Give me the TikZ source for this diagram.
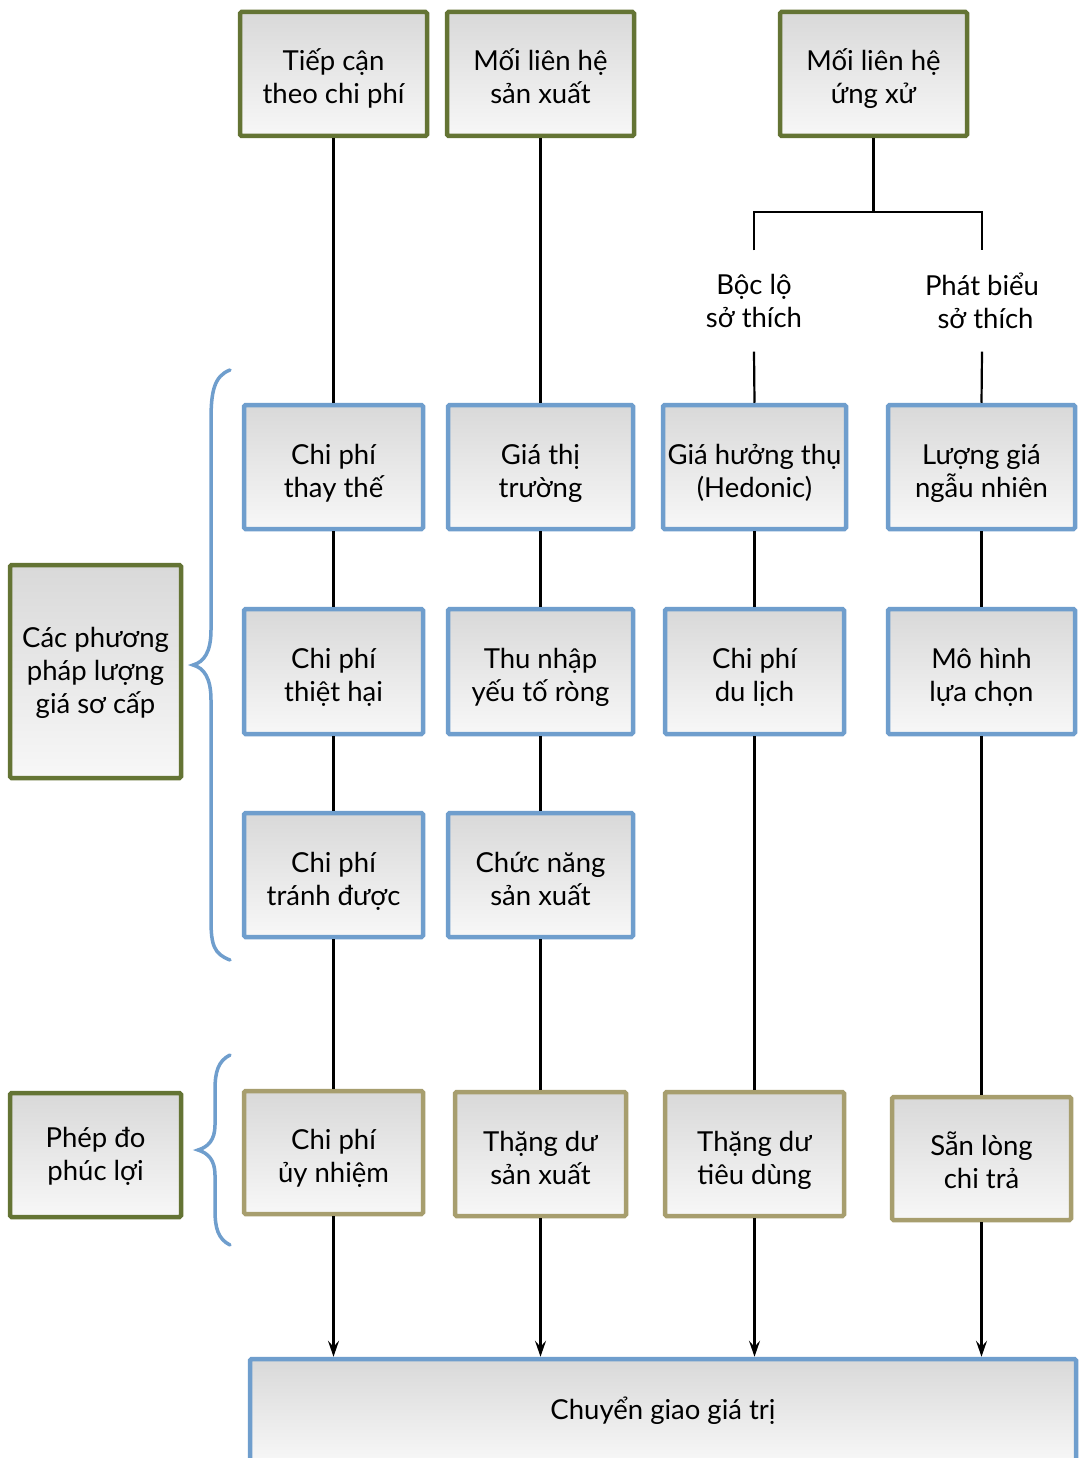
\documentclass[tikz,border=0pt]{standalone}
\usepackage{fontspec}
\setmainfont{Lato}
\usetikzlibrary{arrows.meta}
\definecolor{cgreen}{RGB}{100,116,52}
\definecolor{cblue}{RGB}{111,158,205}
\definecolor{ckhaki}{RGB}{167,158,110}
\newcommand\bt[1]{\rule{0pt}{35pt}#1\rule[-8pt]{0pt}{8pt}}
\newcommand\btl[1]{\rule{0pt}{35pt}#1\rule[-18pt]{0pt}{18pt}}
\begin{document}
\begin{tikzpicture}[x=1pt,y=-1pt,
  every node/.style={font=\fontsize{27.5}{33}\selectfont, align=center, inner sep=0pt},
  box/.style={line width=4.5pt, top color=gray!30, bottom color=gray!6, rounded corners=1.5pt},
  gbox/.style={box, draw=cgreen},
  bbox/.style={box, draw=cblue},
  kbox/.style={box, draw=ckhaki},
  conn/.style={line width=2.2pt, black},
  arr/.style={conn, -{Stealth[length=16pt, width=11pt, inset=6pt]}},
  brace/.style={draw=cblue, line width=3.5pt, line cap=round}
]
\clip (0,0) rectangle (1081,1458);
\fill[white] (0,0) rectangle (1081,1458);

% top row
\node[gbox, minimum width=187, minimum height=124] (b1) at (333.5,74) {\bt{Tiếp cận\\theo chi phí}};
\node[gbox, minimum width=187, minimum height=124] (b2) at (540.5,74) {\bt{Mối liên hệ\\sản xuất}};
\node[gbox, minimum width=187, minimum height=124] (b3) at (873.5,74) {\bt{Mối liên hệ\\ứng xử}};

% labels
\node[minimum height=101] (lab1) at (754,301) {Bộc lộ\\sở thích};
\node[minimum height=101] (lab2) at (982,301) {Phát biểu\\\ sở thích};

% row 2
\node[bbox, minimum width=179, minimum height=124] (r2c1) at (333.5,467) {\bt{Chi phí\\thay thế}};
\node[bbox, minimum width=185, minimum height=124] (r2c2) at (540.5,467) {\bt{Giá thị\\trường}};
\node[bbox, minimum width=183, minimum height=124] (r2c3) at (754.5,467) {\bt{Giá hưởng thụ\\(Hedonic)}};
\node[bbox, minimum width=187, minimum height=124] (r2c4) at (981.5,467) {\bt{Lượng giá\\ngẫu nhiên}};

% row 3
\node[bbox, minimum width=179, minimum height=125] (r3c1) at (333.5,671.5) {\bt{Chi phí\\thiệt hại}};
\node[bbox, minimum width=185, minimum height=125] (r3c2) at (540.5,671.5) {\bt{Thu nhập\\yếu tố ròng}};
\node[bbox, minimum width=179, minimum height=125] (r3c3) at (754.5,671.5) {\bt{Chi phí\\du lịch}};
\node[bbox, minimum width=187, minimum height=125] (r3c4) at (981.5,671.5) {\bt{Mô hình\\lựa chọn}};

% row 4
\node[bbox, minimum width=179, minimum height=124] (r4c1) at (333.5,875) {\bt{Chi phí\\tránh được}};
\node[bbox, minimum width=185, minimum height=124] (r4c2) at (540.5,875) {\bt{Chức năng\\sản xuất}};

% row 5
\node[kbox, minimum width=179, minimum height=123] (r5c1) at (333.5,1152.5) {\bt{Chi phí\\ủy nhiệm}};
\node[kbox, minimum width=171, minimum height=124] (r5c2) at (540.5,1154) {\bt{Thặng dư\\sản xuất}};
\node[kbox, minimum width=179, minimum height=124] (r5c3) at (754.5,1154) {\bt{Thặng dư\\tiêu dùng}};
\node[kbox, minimum width=179, minimum height=123] (r5c4) at (981.5,1158.5) {\bt{Sẵn lòng\\chi trả}};

% left boxes
\node[gbox, minimum width=171, minimum height=213] (L1) at (95.5,671.5) {\btl{Các phương\\pháp lượng\\giá sơ cấp}};
\node[gbox, minimum width=171, minimum height=124] (L2) at (95.5,1155) {\btl{Phép đo\\phúc lợi}};

% bottom box
\node[bbox, minimum width=826, minimum height=104] (bot) at (663,1411) {Chuyển giao giá trị};

% connectors
\coordinate (jl) at (754,212);
\coordinate (jr) at (982,212);
\draw[conn] (b1.south) -- (r2c1.north);
\draw[conn] (b2.south) -- (r2c2.north);
\draw[conn] (b3.south) -- (b3.south |- jl);
\draw[conn] (lab1.north) |- (jr) -- (lab2.north);
\draw[conn] (lab1.south) -- (r2c3.north);
\draw[conn] (lab2.south) -- (r2c4.north);

\draw[conn] (r2c1.south) -- (r3c1.north);
\draw[conn] (r3c1.south) -- (r4c1.north);
\draw[conn] (r4c1.south) -- (r5c1.north);
\draw[conn] (r2c2.south) -- (r3c2.north);
\draw[conn] (r3c2.south) -- (r4c2.north);
\draw[conn] (r4c2.south) -- (r5c2.north);
\draw[conn] (r2c3.south) -- (r3c3.north);
\draw[conn] (r3c3.south) -- (r5c3.north);
\draw[conn] (r2c4.south) -- (r3c4.north);
\draw[conn] (r3c4.south) -- (r5c4.north);

\draw[arr] (r5c1.south) -- (r5c1.south |- bot.north);
\draw[arr] (r5c2.south) -- (r5c2.south |- bot.north);
\draw[arr] (r5c3.south) -- (r5c3.south |- bot.north);
\draw[arr] (r5c4.south) -- (r5c4.south |- bot.north);

% braces
\draw[brace] (230,370) .. controls (214,376) and (211,392) .. (211,420) -- (211,630)
  .. controls (211,652) and (204,662) .. (193,665)
  .. controls (204,668) and (211,678) .. (211,700) -- (211,920)
  .. controls (211,945) and (214,954) .. (230,960);
\draw[brace] (230,1055) .. controls (218,1061) and (215,1072) .. (215,1090) -- (215,1125)
  .. controls (215,1140) and (208,1147) .. (198,1150)
  .. controls (208,1153) and (215,1160) .. (215,1175) -- (215,1210)
  .. controls (215,1228) and (218,1239) .. (230,1245);
\end{tikzpicture}
\end{document}
